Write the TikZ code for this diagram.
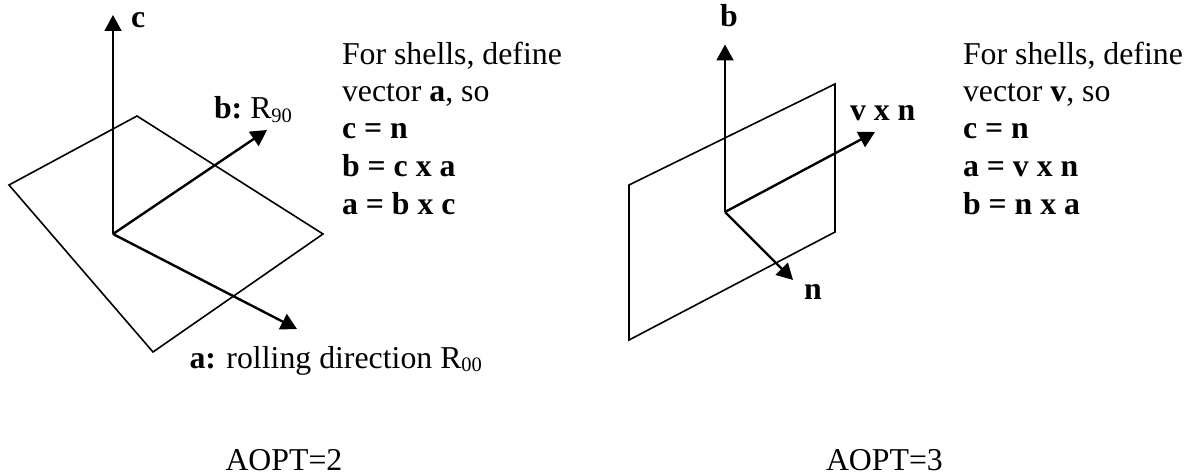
\documentclass[tikz,border=0pt]{standalone}
\usepackage{fontspec}
\setmainfont{Liberation Serif}
\usetikzlibrary{arrows.meta}
\tikzset{
  lbl/.style={anchor=base west,inner sep=0pt,outer sep=0pt,font=\fontsize{31.8}{37}\selectfont},
  plane/.style={draw=black,line width=1.6pt,line join=miter},
  vec/.style={draw=black,line width=2.4pt,-{Triangle[length=16pt,width=17pt]}},
  thinvec/.style={draw=black,line width=1.9pt,-{Triangle[length=16pt,width=17pt]}}
}
\newcommand{\lowsub}[1]{\raisebox{-3.8pt}{\fontsize{20.5}{21}\selectfont #1}}
\begin{document}
\begin{tikzpicture}[x=1pt,y=-1pt]
\useasboundingbox (0,0) rectangle (1188,476);
% left
\coordinate (lo) at (113,234);
\coordinate (lc) at (113,15);
\coordinate (lb) at (267,130);
\coordinate (la) at (297,329);
\coordinate (p1) at (137,116);
\coordinate (p2) at (323,234);
\coordinate (p3) at (153,352);
\coordinate (p4) at (9,185);
\draw[plane] (p1) -- (p2) -- (p3) -- (p4) -- cycle;
\draw[thinvec] (lo) -- (lc);
\draw[vec] (lo) -- (lb);
\draw[vec] (lo) -- (la);
\node[lbl] (tc) at (131,28) {\textbf{c}};
\node[lbl] (tb) at (214,119) {\textbf{b:}\hspace{8pt}R\lowsub{90}};
\node[lbl] (ta) at (189.5,368) {\textbf{a:}\hspace{10.5pt}rolling direction R\lowsub{00}};
\node[lbl] (l1) at (342,65) {For shells, define};
\node[lbl] (l2) at (342,102) {vector \textbf{a}, so};
\node[lbl] (l3) at (342,139) {\textbf{c = n}};
\node[lbl] (l4) at (342,176) {\textbf{b = c x a}};
\node[lbl] (l5) at (342,214) {\textbf{a = b x c}};
% right
\coordinate (ro) at (725,212);
\coordinate (rb) at (725,44.5);
\coordinate (rv) at (875,132);
\coordinate (rn) at (793,280);
\coordinate (q1) at (835,84);
\coordinate (q2) at (835,232);
\coordinate (q3) at (629,340);
\coordinate (q4) at (629,185);
\draw[plane] (q1) -- (q2) -- (q3) -- (q4) -- cycle;
\draw[thinvec] (ro) -- (rb);
\draw[vec] (ro) -- (rv);
\draw[vec] (ro) -- (rn);
\node[lbl] (rtb) at (720,27) {\textbf{b}};
\node[lbl] (rtv) at (850,121) {\textbf{v x n}};
\node[lbl] (rtn) at (804,299) {\textbf{n}};
\node[lbl] (r1) at (963,65) {For shells, define};
\node[lbl] (r2) at (963,102) {vector \textbf{v}, so};
\node[lbl] (r3) at (963,139) {\textbf{c = n}};
\node[lbl] (r4) at (963,176) {\textbf{a = v x n}};
\node[lbl] (r5) at (963,214) {\textbf{b = n x a}};
% captions
\node[lbl] (cap1) at (225.5,470) {AOPT=2};
\node[lbl] (cap2) at (826,470) {AOPT=3};
\end{tikzpicture}
\end{document}
